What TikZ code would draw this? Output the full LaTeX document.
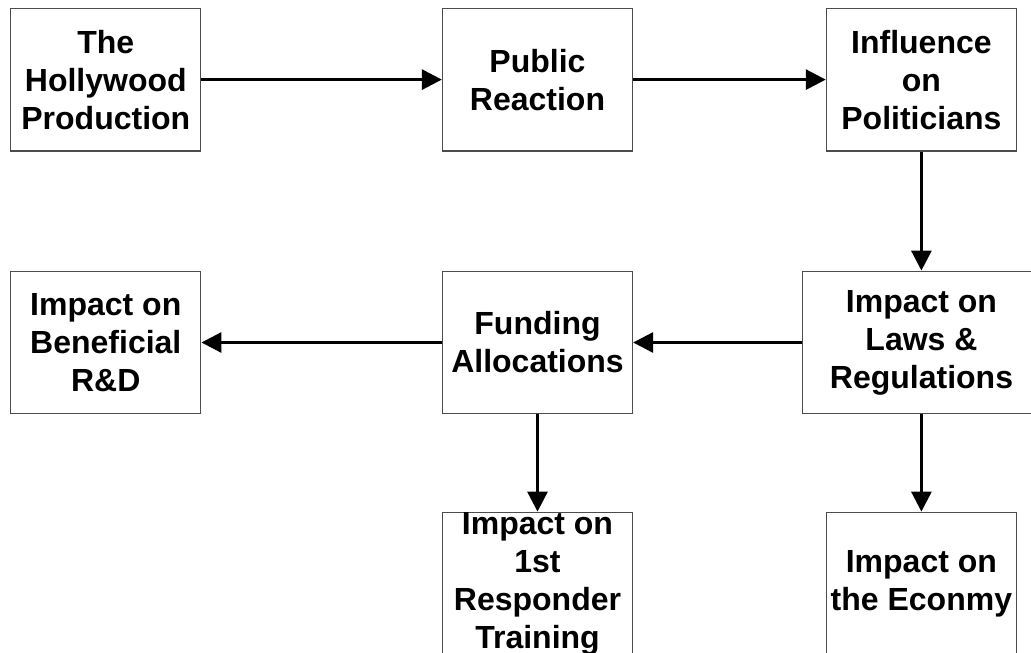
\documentclass[tikz,border=0pt]{standalone}
\usepackage{fontspec}
\setmainfont{Liberation Sans}
\usetikzlibrary{arrows.meta}
\begin{document}
\begin{tikzpicture}[x=1pt,y=-1pt,
  box/.style={draw=black!70, line width=1.3pt, minimum width=190pt, minimum height=142.5pt, inner sep=0pt},
  txt/.style={align=center, font=\fontsize{32}{38}\selectfont\bfseries, inner sep=0pt},
  conn/.style={line width=3pt, -{Triangle[length=20pt,width=20pt]}}]
\useasboundingbox (0,0) rectangle (1031,653);
\clip (0,0) rectangle (1031,653);
\fill[white] (0,0) rectangle (1031,653);
\node[box, label={[txt]center:The\\Hollywood\\Production}] (b1) at (105.8,79.6) {};
\node[box, label={[txt]center:Public\\Reaction}] (b2) at (537.5,79.6) {};
\node[box, label={[txt]center:Influence\\on\\Politicians}] (b3) at (921.4,79.6) {};
\node[box, minimum width=300pt, label={[txt, xshift=-31pt]center:Impact on\\Laws \&\\Regulations}] (b4) at (952.5,342.5) {};
\node[box, label={[txt]center:Funding\\Allocations}] (b5) at (537.5,342.5) {};
\node[box, label={[txt]center:Impact on\\Beneficial\\R\&D}] (b6) at (105.8,342.5) {};
\node[box, label={[txt]center:Impact on\\1st\\Responder\\Training}] (b7) at (537.5,583.5) {};
\node[box, label={[txt]center:Impact on\\the Econmy}] (b8) at (921.4,583.5) {};
\draw[conn] (b1) -- (b2);
\draw[conn] (b2) -- (b3);
\draw[conn] (b3) -- (b3 |- b4.north);
\draw[conn] (b4.west) -- (b5.east);
\draw[conn] (b5) -- (b6);
\draw[conn] (b5) -- (b7);
\draw[conn] (b8 |- b4.south) -- (b8);
\end{tikzpicture}
\end{document}
